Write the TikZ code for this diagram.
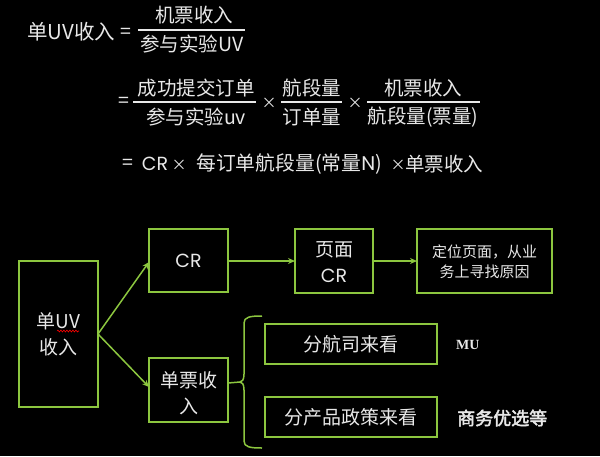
\documentclass[tikz,border=0pt]{standalone}
\usepackage{fontspec}
\setmainfont{Noto Sans CJK SC}[AutoFakeBold=2.5]
\newfontfamily\geo{Poppins}
\newfontfamily\tag{Liberation Serif}
\usetikzlibrary{arrows.meta,decorations.pathmorphing}
\definecolor{boxgreen}{HTML}{8CC63F}
\definecolor{ink}{HTML}{E8E8E8}
\begin{document}
\begin{tikzpicture}[x=1pt,y=-1pt,
  every node/.style={text=ink, inner sep=0pt},
  eq/.style={font=\fontsize{19.5}{21}\selectfont},
  times/.style={font=\fontsize{15}{17}\selectfont},
  bar/.style={draw=ink, line width=1.3pt},
  box/.style={draw=boxgreen, line width=2.4pt},
  lbl/.style={font=\fontsize{19}{26}\selectfont, align=center},
  small/.style={font=\fontsize{15}{20}\selectfont, align=center},
  link/.style={draw=boxgreen, line width=1.5pt, -{Stealth[length=7pt,width=6pt]}},
  note/.style={font=\bfseries\fontsize{18}{20}\selectfont}]
\fill[black] (0,0) rectangle (600,456);
\useasboundingbox (0,0) rectangle (600,456);

% first identity
\node[eq, anchor=west, font=\fontsize{20.5}{22}\selectfont] (lhs) at (27,32) {单UV收入};
\node[eq] (eq1) at (126,33) {=};
\node[eq] (n1) at (194,15) {机票收入};
\node[eq] (d1) at (192,44) {参与实验UV};
\draw[bar] (138,30) -- (245,30);

% decomposition into three factors
\node[eq] (eq2) at (124,102) {=};
\node[eq] (n2) at (196,88) {成功提交订单};
\node[eq] (d2) at (196,117) {参与实验uv};
\draw[bar] (133,102) -- (256,102);
\node[times] (x1) at (269,103) {×};
\node[eq] (n3) at (312,88) {航段量};
\node[eq] (d3) at (312,117) {订单量};
\draw[bar] (281,102) -- (342,102);
\node[times] (x2) at (355,103) {×};
\node[eq] (n4) at (423,88) {机票收入};
\node[eq] (d4) at (423,117) {航段量(票量)};
\draw[bar] (367,102) -- (480,102);

% the same product in words
\node[eq] (eq3) at (128,164) {=};
\node[eq, font=\geo\fontsize{19}{21}\selectfont] (cr3) at (155,164) {CR};
\node[times] (x3) at (179,165) {×};
\node[eq, anchor=west, font=\fontsize{19.8}{21}\selectfont] (mid3) at (196,164) {每订单航段量(常量{\geo N})};
\node[times] (x4) at (398,165) {×};
\node[eq, anchor=west] (end3) at (405,164) {单票收入};

% breakdown tree
\path[box] (19,261) rectangle (98,407);
\node[lbl] (root) at (58.5,334) {单UV\\收入};
\draw[red, line width=0.6pt, decoration={snake, amplitude=0.9pt, segment length=3pt}, decorate] (57,331) -- (79,331);
\coordinate (rootR) at (98,334);

\path[box] (149,229) rectangle (228,292);
\node[lbl, font=\geo\fontsize{19}{22}\selectfont] (cr) at (188.5,261) {CR};
\coordinate (crL) at (149,262);
\coordinate (crR) at (228,261);

\path[box] (149,358) rectangle (228,422);
\node[lbl] (ticket) at (188.5,393) {单票收\\入};
\coordinate (tkL) at (149,387);
\coordinate (tkR) at (228,383);

\path[box] (295,229) rectangle (373,293);
\node[lbl] (page) at (334,262) {页面\\{\geo CR}};
\coordinate (pgL) at (295,261);
\coordinate (pgR) at (373,261);

\path[box] (417,229) rectangle (552,293);
\node[small] (locate) at (484.5,262) {定位页面，从业\\务上寻找原因};
\coordinate (locL) at (417,261);

\path[box] (265,324) rectangle (437,364);
\node[lbl] (airline) at (351,344) {分航司来看};
\path[box] (265,397) rectangle (437,437);
\node[lbl] (product) at (351,417) {分产品政策来看};

\node[note, font=\tag\bfseries\fontsize{14}{16}\selectfont, anchor=west] (mu) at (456,345) {MU};
\node[note, anchor=west] (biz) at (457,418) {商务优选等};

\draw[link] (rootR) -- (crL);
\draw[link] (rootR) -- (tkL);
\draw[link] (crR) -- (pgL);
\draw[link] (pgR) -- (locL);

% brace grouping the two views of ticket revenue
\coordinate (cusp) at (240,382);
\draw[boxgreen, line width=1.5pt] (tkR) -- (cusp);
\draw[boxgreen, line width=1.5pt, line join=round]
  (262,316) .. controls (250,316) and (244,317) .. (244,323)
  -- (244,374) .. controls (244,380) and (242,382) .. (cusp)
  .. controls (242,382) and (244,384) .. (244,390)
  -- (244,441) .. controls (244,447) and (250,448) .. (262,448);
\end{tikzpicture}
\end{document}
